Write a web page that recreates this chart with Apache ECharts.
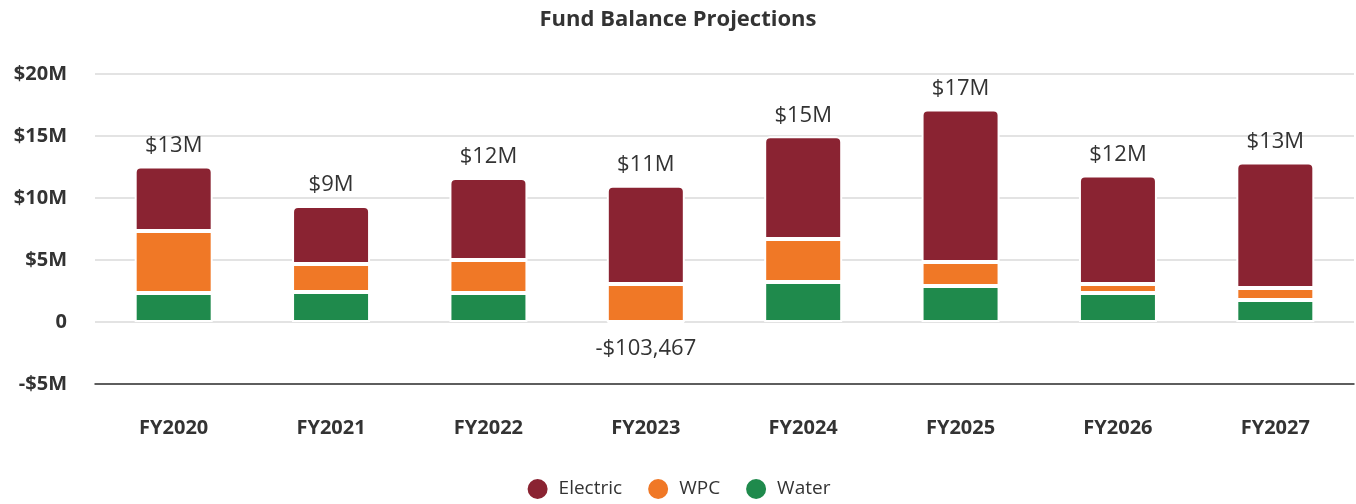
<!DOCTYPE html>
<html>
<head>
<meta charset="utf-8">
<title>Fund Balance Projections</title>
<script src="https://cdn.jsdelivr.net/npm/echarts@6/dist/echarts.min.js"></script>
<style>
  html, body { margin: 0; padding: 0; background: #fff; }
  #chart { width: 1356px; height: 504px; }
</style>
</head>
<body>
<div id="chart"></div>
<script>
// data, in millions of dollars
const years = ["FY2020", "FY2021", "FY2022", "FY2023", "FY2024", "FY2025", "FY2026", "FY2027"];
const water = [2.34, 2.42, 2.34, -0.103467, 3.23, 2.9, 2.34, 1.77];
const wpc = [5.0, 2.26, 2.66, 3.06, 3.47, 1.94, 0.73, 0.97];
const electric = [5.2, 4.67, 6.62, 7.92, 8.27, 12.3, 8.75, 10.12];
const totalLabels = ["$13M", "$9M", "$12M", "$11M", "$15M", "$17M", "$12M", "$13M"];

const labelFont = "'Open Sans', sans-serif";

const chart = echarts.init(document.getElementById("chart"));

// water: the negative FY2023 value gets its own label below the bar
const waterData = water.map((v, i) => {
  if (v < 0) {
    return {
      value: v,
      label: {
        show: true,
        position: "bottom",
        distance: 14,
        formatter: "-$" + Math.round(-v * 1e6).toLocaleString("en-US"),
        color: "#333",
        fontSize: 22,
        fontFamily: labelFont,
      },
    };
  }
  return v;
});

const option = {
  animation: false,
  title: {
    text: "Fund Balance Projections",
    left: "center",
    top: 4,
    textStyle: {
      fontFamily: labelFont,
      fontSize: 22,
      fontWeight: "bold",
      color: "#333",
    },
  },
  legend: {
    bottom: -2,
    left: "center",
    icon: "circle",
    itemWidth: 22,
    itemHeight: 22,
    itemGap: 24,
    textStyle: {
      fontFamily: labelFont,
      fontSize: 19,
      color: "#333",
      padding: [0, 0, 0, 5],
    },
    data: ["Electric", "WPC", "Water"],
  },
  grid: {
    left: 95,
    right: 2,
    top: 74,
    bottom: 120,
  },
  xAxis: {
    type: "category",
    data: years,
    axisTick: { show: false },
    axisLine: { onZero: false, lineStyle: { color: "#333", width: 1.5 } },
    axisLabel: {
      margin: 34,
      fontFamily: labelFont,
      fontSize: 20,
      fontWeight: "bold",
      color: "#333",
    },
  },
  yAxis: {
    type: "value",
    min: -5,
    max: 20,
    interval: 5,
    splitLine: { lineStyle: { color: "#e3e3e3", width: 2 } },
    axisLabel: {
      margin: 28,
      fontFamily: labelFont,
      fontSize: 20,
      fontWeight: "bold",
      color: "#333",
      formatter: (v) => (v === 0 ? "0" : v < 0 ? "-$" + -v + "M" : "$" + v + "M"),
    },
  },
  series: [
    {
      name: "Water",
      type: "bar",
      stack: "total",
      barWidth: 78,
      color: "#1F8A4C",
      itemStyle: { borderColor: "#fff", borderWidth: 2 },
      data: waterData,
    },
    {
      name: "WPC",
      type: "bar",
      stack: "total",
      color: "#F07826",
      itemStyle: { borderColor: "#fff", borderWidth: 2 },
      data: wpc,
    },
    {
      name: "Electric",
      type: "bar",
      stack: "total",
      color: "#8A2332",
      itemStyle: { borderColor: "#fff", borderWidth: 2, borderRadius: [5, 5, 0, 0] },
      label: {
        show: true,
        position: "top",
        distance: 10,
        formatter: (p) => totalLabels[p.dataIndex],
        fontFamily: labelFont,
        fontSize: 22,
        color: "#333",
      },
      data: electric,
    },
  ],
};

chart.setOption(option);
window.addEventListener("resize", () => chart.resize());
</script>
</body>
</html>
